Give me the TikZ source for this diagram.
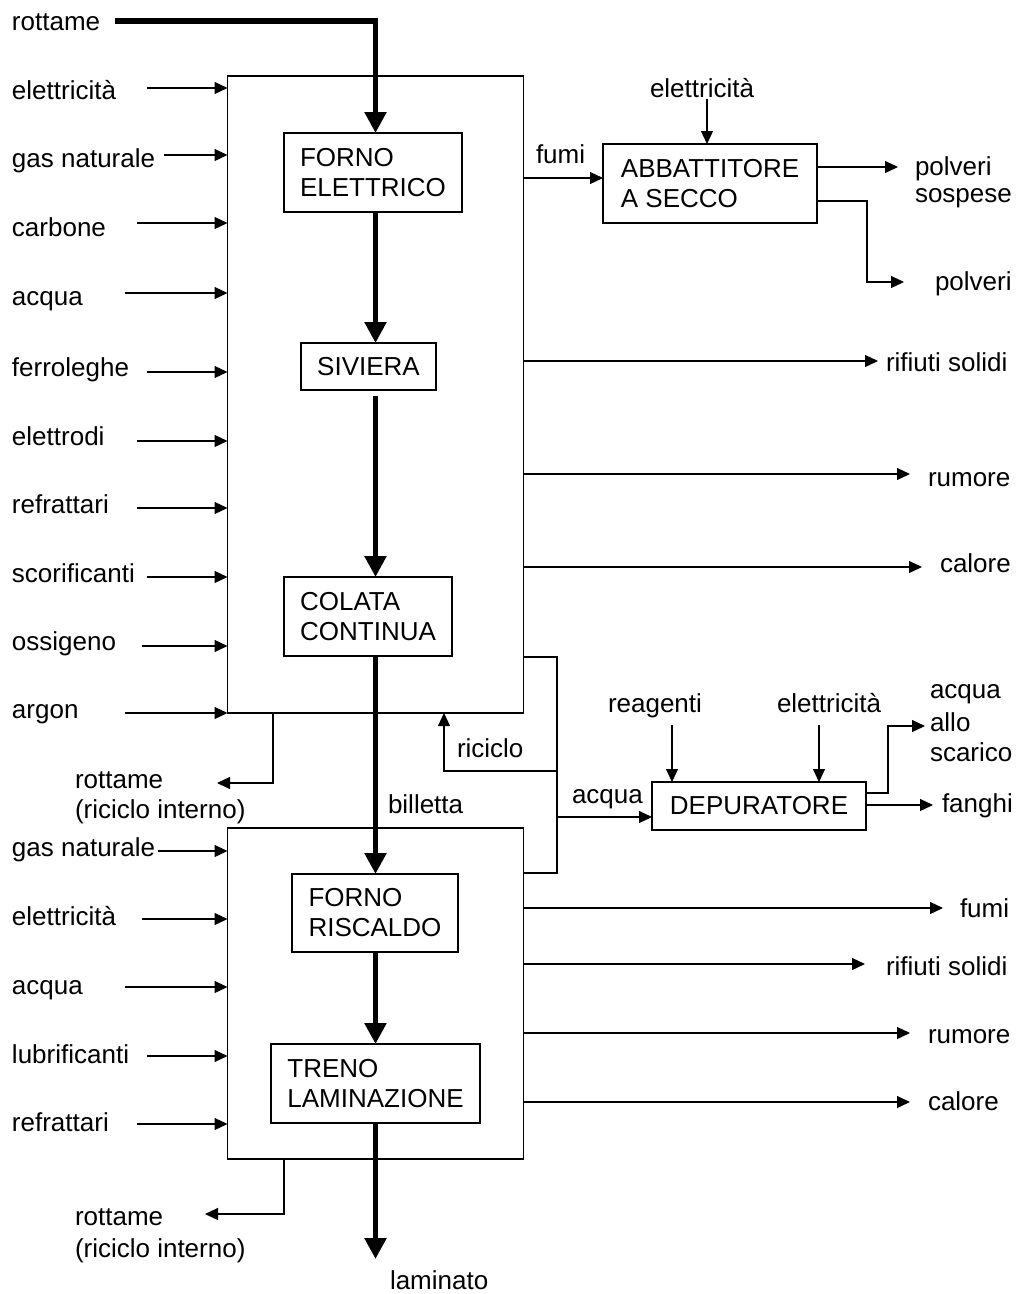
\documentclass[tikz,border=0pt]{standalone}
\usepackage{fontspec}
\setmainfont{Liberation Sans}
\usetikzlibrary{arrows.meta}
% left-aligned multi-line label whose baseline is that of its first line
\newcommand{\mlines}[1]{\begin{tabular}[t]{@{}l@{}}#1\end{tabular}}

\begin{document}
\begin{tikzpicture}[x=1pt,y=-1pt,
  font=\fontsize{26}{30}\selectfont,
  lab/.style={inner sep=0pt, outer sep=0pt, anchor=base west},
  area/.style={draw, line width=1.2pt, inner sep=0pt, outer sep=0pt},
  proc/.style={draw, line width=1.2pt, inner sep=0pt, outer sep=0pt, align=left},
  flow/.style={line width=1.2pt, -{Triangle[length=13pt,width=12pt]}},
  link/.style={line width=1.2pt},
  main/.style={line width=5.5pt, -{Triangle[length=21pt,width=21pt]}},
]
\fill[white] (0,0) rectangle (1016,1294);
\useasboundingbox (0,0) rectangle (1016,1294);

% plant areas: steelmaking (upper) and rolling mill (lower)
\node[area, minimum width=296pt, minimum height=637pt] (up) at (375.5,394.5) {};
\node[area, minimum width=296pt, minimum height=331pt] (lo) at (375.5,993.5) {};

% process units
\node[proc, minimum width=178pt, minimum height=79pt] (fe)  at (373,172.5)   {FORNO\\ELETTRICO};
\node[proc, minimum width=135pt, minimum height=47pt] (siv) at (368.5,366.5) {SIVIERA};
\node[proc, minimum width=168pt, minimum height=79pt] (col) at (368,616.5)   {COLATA\\CONTINUA};
\node[proc, minimum width=166pt, minimum height=78pt] (fr)  at (375,913)     {FORNO\\RISCALDO};
\node[proc, minimum width=209pt, minimum height=79pt] (tl)  at (375.5,1083.5){TRENO\\LAMINAZIONE};
\node[proc, minimum width=214pt, minimum height=79pt] (abb) at (710,183.5)   {ABBATTITORE\\A SECCO};
\node[proc, minimum width=214pt, minimum height=48pt] (dep) at (759,806)     {DEPURATORE};

% axis of the main material flow
\coordinate (ax) at (375.5,0);

% inputs to the steelmaking area
\foreach \t/\b/\a/\s [count=\i] in {elettricità/99/88/147, gas naturale/167/155/164,
    carbone/236/223/137, acqua/305/293/125, ferroleghe/376/372/147,
    elettrodi/445/441/137, refrattari/513/508/137, scorificanti/582/577/147,
    ossigeno/650/646/142, argon/718/713/125}
{
  \node[lab] (iu\i) at (12,\b) {\t};
  \coordinate (su\i) at (\s,\a);
  \draw[flow] (su\i) -- (su\i -| up.west);
}

% inputs to the rolling mill
\foreach \t/\b/\a/\s [count=\i] in {gas naturale/856/851/158, elettricità/925/919/142,
    acqua/994/987/125, lubrificanti/1063/1056/147, refrattari/1131/1124/137}
{
  \node[lab] (il\i) at (12,\b) {\t};
  \coordinate (sl\i) at (\s,\a);
  \draw[flow] (sl\i) -- (sl\i -| lo.west);
}

% outputs of the steelmaking area
\foreach \t/\a/\e/\lx/\b [count=\i] in {rifiuti solidi/361/878/886/371,
    rumore/474/910/928/486, calore/567/922/940/572}
{
  \node[lab] (ou\i) at (\lx,\b) {\t};
  \coordinate (eu\i) at (\e,\a);
  \draw[flow] (eu\i -| up.east) -- (eu\i);
}

% outputs of the rolling mill
\foreach \t/\a/\e/\lx/\b [count=\i] in {fumi/908/943/960/917,
    rifiuti solidi/964/865/886/975, rumore/1033/910/928/1043, calore/1102/910/928/1110}
{
  \node[lab] (ol\i) at (\lx,\b) {\t};
  \coordinate (el\i) at (\e,\a);
  \draw[flow] (el\i -| lo.east) -- (el\i);
}

% main material flow
\node[lab] (rot) at (12,30) {rottame};
\coordinate (rotS) at (115,21);
\draw[main] (rotS) -| (fe.north -| ax);
\draw[main] (fe.south -| ax) -- (siv.north -| ax);
\draw[main] ([yshift=-6pt]siv.south -| ax) -- (col.north -| ax);
\draw[main] (col.south -| ax) -- (fr.north -| ax);
\draw[main] (fr.south -| ax) -- (tl.north -| ax);
\coordinate (lamE) at (375.5,1259);
\draw[main] (tl.south -| ax) -- (lamE);
\node[lab] (bil) at (388,813) {billetta};
\node[lab] (lam) at (390,1289) {laminato};

% fume treatment
\node[lab] (fum) at (536,163) {fumi};
\coordinate (fumY) at (0,178);
\draw[flow] (fumY -| up.east) -- (fumY -| abb.west);
\node[lab] (abbE) at (650,97) {elettricità};
\coordinate (abbES) at (707,99);
\draw[flow] (abbES) -- (abbES |- abb.north);
\node[lab] (pvs) at (915,175) {\mlines{polveri\\[-3pt]sospese}};
\coordinate (pvsE) at (898,167);
\draw[flow] (pvsE -| abb.east) -- (pvsE);
\node[lab] (pv) at (935,290) {polveri};
\coordinate (pvE) at (904,282);
\draw[flow] (abb.east |- 0,201) -- (867,201) |- (pvE);

% internal scrap recycling
\node[lab] (ri1) at (75,788) {\mlines{rottame\\(riciclo interno)}};
\coordinate (ri1E) at (217,783);
\draw[flow] (up.south -| 273,0) |- (ri1E);
\node[lab] (ri2) at (75,1225) {\mlines{rottame\\[2pt](riciclo interno)}};
\coordinate (ri2E) at (205,1214);
\draw[flow] (lo.south -| 284,0) |- (ri2E);

% water circuit
\coordinate (wa) at (557,657);
\coordinate (wb) at (557,873);
\draw[link] (wa -| up.east) -- (wa) -- (wb) -- (wb -| lo.east);
\node[lab] (ric) at (457,757) {riciclo};
\draw[flow] (557,771) -| (up.south -| 444,0);
\node[lab] (acq) at (572,803) {acqua};
\draw[flow] (557,817) -- (dep.west |- 0,817);

% water treatment
\node[lab] (rea) at (608,712) {reagenti};
\coordinate (reaS) at (672,725);
\draw[flow] (reaS) -- (reaS |- dep.north);
\node[lab] (depE) at (777,712) {elettricità};
\coordinate (depES) at (819,725);
\draw[flow] (depES) -- (depES |- dep.north);
\node[lab] (sca) at (930,698) {\mlines{acqua\\[3pt]allo\\scarico}};
\coordinate (scaE) at (925,726);
\draw[flow] (dep.east |- 0,793) -- (888,793) |- (scaE);
\node[lab] (fan) at (942,812) {fanghi};
\coordinate (fanE) at (933,805);
\draw[flow] (fanE -| dep.east) -- (fanE);
\end{tikzpicture}
\end{document}
